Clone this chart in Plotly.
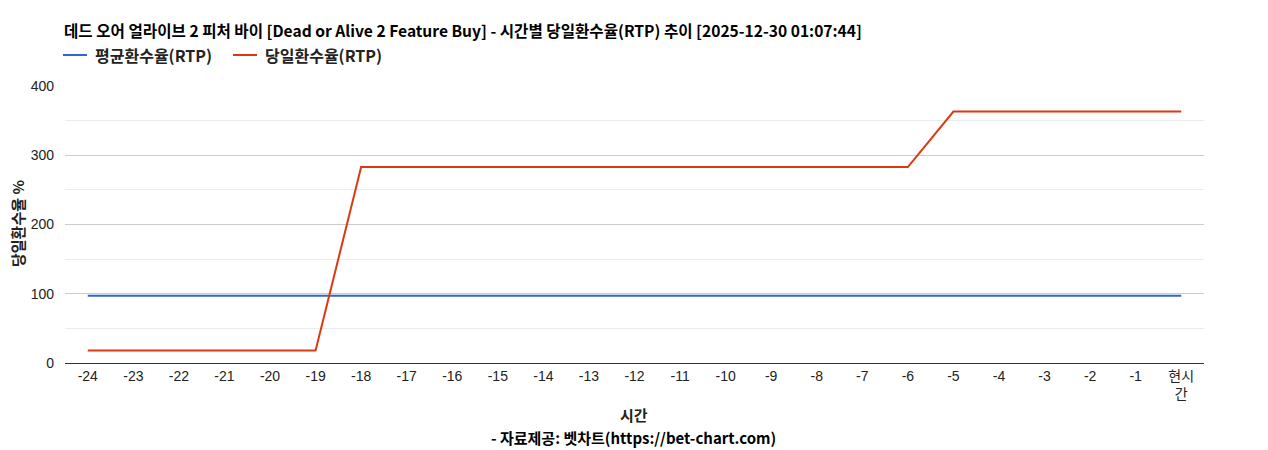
import plotly.graph_objs as go

# data
hours = [str(h) for h in range(-24, 0)] + ["현시<br>간"]
avg_rtp = [97] * 25
day_rtp = [18, 18, 18, 18, 18, 18,
           283, 283, 283, 283, 283, 283, 283, 283, 283, 283, 283, 283, 283,
           363, 363, 363, 363, 363, 363]

series_names = ["평균환수율(RTP)", "당일환수율(RTP)"]
series_colors = ["#3366cc", "#dc3912"]

title_text = "데드 오어 얼라이브 2 피처 바이 [Dead or Alive 2 Feature Buy] - 시간별 당일환수율(RTP) 추이 [2025-12-30 01:07:44]"
source_text = "- 자료제공: 벳차트(https://bet-chart.com)"
kr_font = "Noto Sans CJK KR"
tick_font = "Liberation Sans, Arial"

# page body adds an 8px offset, so work in screenshot pixels and shift
OFF = 8
W, H = 1260, 442
L, T = 65 - OFF, 86 - OFF
R = W - (1204 - OFF)
B = H - (363 - OFF)
pw, ph = W - L - R, H - T - B


def px_x(px):
    return (px - OFF - L) / pw


def px_y(py):
    return (H - B - (py - OFF)) / ph


fig = go.Figure()
for name, vals, col in zip(series_names, [avg_rtp, day_rtp], series_colors):
    fig.add_trace(go.Scatter(x=hours, y=vals, mode="lines", name=name,
                             line=dict(color=col, width=2), showlegend=False))

# legend drawn by hand to get short google-style swatches
legend_x = [63, 233]
for name, col, lx in zip(series_names, series_colors, legend_x):
    fig.add_shape(type="line", xref="paper", yref="paper",
                  x0=px_x(lx), x1=px_x(lx + 24), y0=px_y(55), y1=px_y(55),
                  line=dict(color=col, width=2))
    fig.add_annotation(text="<b>" + name + "</b>", xref="paper", yref="paper",
                       x=px_x(lx + 30), y=px_y(55), xanchor="left", yanchor="middle",
                       showarrow=False, font=dict(family=kr_font, size=16, color="#222"))

fig.add_annotation(text="<b>" + title_text + "</b>", xref="paper", yref="paper",
                   x=px_x(62), y=px_y(30), xanchor="left", yanchor="middle",
                   showarrow=False, font=dict(family=kr_font, size=15.6, color="#000"))
fig.add_annotation(text="<b>시간</b>", xref="paper", yref="paper",
                   x=px_x(634), y=px_y(414), xanchor="center", yanchor="middle",
                   showarrow=False, font=dict(family=kr_font, size=15, color="#222"))
fig.add_annotation(text="<b>" + source_text + "</b>", xref="paper", yref="paper",
                   x=px_x(633), y=px_y(437), xanchor="center", yanchor="middle",
                   showarrow=False, font=dict(family=kr_font, size=15, color="#000"))
fig.add_annotation(text="<b>당일환수율 %</b>", xref="paper", yref="paper",
                   x=px_x(17), y=px_y(224), xanchor="center", yanchor="middle", textangle=-90,
                   showarrow=False, font=dict(family=kr_font, size=15, color="#222"))

fig.update_layout(
    width=W, height=H,
    margin=dict(l=L, r=R, t=T, b=B),
    paper_bgcolor="white", plot_bgcolor="white",
    showlegend=False,
    font=dict(family=tick_font, size=14, color="#222"),
    xaxis=dict(type="category", showgrid=False, showline=True, linecolor="#333", linewidth=1,
               ticks="", range=[-0.5, 24.5], tickfont=dict(family=tick_font + ", " + kr_font, size=14),
               zeroline=False, fixedrange=True),
    yaxis=dict(range=[0, 400], tickvals=[0, 100, 200, 300, 400], showgrid=True, gridcolor="#cccccc",
               gridwidth=1, zeroline=False, showline=False, ticks="", ticklabelstandoff=10,
               tickfont=dict(family=tick_font, size=14),
               minor=dict(dtick=50, showgrid=True, gridcolor="#ebebeb", gridwidth=1, ticks="")),
)

fig.write_html("out.html")
